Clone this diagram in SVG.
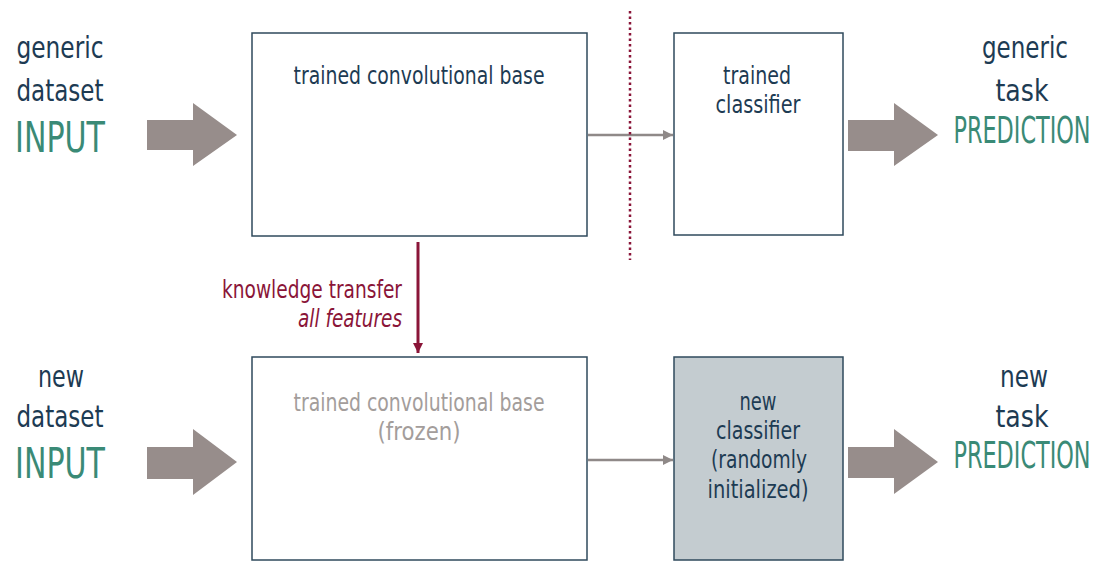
<svg xmlns="http://www.w3.org/2000/svg" width="1099" height="562" viewBox="0 0 1099 562">
  <style>
    text { font-family: "DejaVu Sans Condensed", "Liberation Sans", sans-serif; text-anchor: middle; }
    .word { font-size: 30px; fill: #1d3b53; }
    .big { font-size: 42px; fill: #3a8a76; }
    .pred { font-size: 26px; fill: #3a8a76; }
    .boxlbl { font-size: 24px; fill: #1d3b53; }
    .frozen { font-size: 24px; fill: #a39d9b; }
    .box { fill: #ffffff; stroke: #2f4a5c; stroke-width: 1.5; }
    .boxnew { fill: #c4ccd0; stroke: #2f4a5c; stroke-width: 1.5; }
    .flow { fill: #978d8b; }
    .link { stroke: #8f8988; stroke-width: 2.5; fill: none; }
    .transfer { stroke: #8a1538; stroke-width: 3; fill: none; }
    .kt { font-size: 24px; fill: #8a1538; text-anchor: end; }
  </style>
  <defs>
    <marker id="head-gray" viewBox="0 0 10 10" refX="10" refY="5" markerWidth="4" markerHeight="4" orient="auto" markerUnits="strokeWidth">
      <path d="M0,0 L10,5 L0,10 z" fill="#8f8988"/>
    </marker>
    <marker id="head-red" viewBox="0 0 10 10" refX="10" refY="5" markerWidth="3.5" markerHeight="3.5" orient="auto" markerUnits="strokeWidth">
      <path d="M0,0 L10,5 L0,10 z" fill="#8a1538"/>
    </marker>
  </defs>

  <!-- top row: generic dataset -->
  <g id="generic-input">
    <text class="word" x="60" y="58" textLength="87" lengthAdjust="spacingAndGlyphs">generic</text>
    <text class="word" x="60" y="101" textLength="87" lengthAdjust="spacingAndGlyphs">dataset</text>
    <text class="big" x="60" y="152" textLength="90" lengthAdjust="spacingAndGlyphs">INPUT</text>
    <path class="flow" d="M147,120 H193 V103 L237,135 L193,166 V150 H147 z"/>
  </g>

  <g id="base-top">
    <rect class="box" x="252" y="33" width="335" height="203"/>
    <text class="boxlbl" x="419" y="84" textLength="251" lengthAdjust="spacingAndGlyphs">trained convolutional base</text>
  </g>

  <g id="classifier-top">
    <rect class="box" x="674" y="33" width="169" height="202"/>
    <text class="boxlbl" x="757" y="84" textLength="68" lengthAdjust="spacingAndGlyphs">trained</text>
    <text class="boxlbl" x="758" y="113" textLength="85" lengthAdjust="spacingAndGlyphs">classifier</text>
  </g>

  <g id="generic-prediction">
    <path class="flow" d="M848,120 H894 V103 L938,135 L894,166 V151 H848 z"/>
    <text class="word" x="1025" y="58" textLength="86" lengthAdjust="spacingAndGlyphs">generic</text>
    <text class="word" x="1022" y="101" textLength="53" lengthAdjust="spacingAndGlyphs">task</text>
    <!-- tall narrow capitals: smaller size stretched vertically -->
    <text class="pred" transform="translate(1022,143) scale(0.956,1.46)">PREDICTION</text>
  </g>

  <!-- bottom row: new dataset -->
  <g id="new-input">
    <text class="word" x="61" y="387" textLength="46" lengthAdjust="spacingAndGlyphs">new</text>
    <text class="word" x="60" y="427" textLength="87" lengthAdjust="spacingAndGlyphs">dataset</text>
    <text class="big" x="60" y="478" textLength="90" lengthAdjust="spacingAndGlyphs">INPUT</text>
    <path class="flow" d="M147,447 H193 V429 L237,462 L193,495 V479 H147 z"/>
  </g>

  <g id="base-bottom">
    <rect class="box" x="252" y="357" width="335" height="203"/>
    <text class="frozen" x="419" y="411" textLength="251" lengthAdjust="spacingAndGlyphs">trained convolutional base</text>
    <text class="frozen" x="419" y="440" textLength="83" lengthAdjust="spacingAndGlyphs">(frozen)</text>
  </g>

  <g id="classifier-bottom">
    <rect class="boxnew" x="674" y="357" width="169" height="203"/>
    <text class="boxlbl" x="758" y="410" textLength="37" lengthAdjust="spacingAndGlyphs">new</text>
    <text class="boxlbl" x="758" y="439" textLength="84" lengthAdjust="spacingAndGlyphs">classifier</text>
    <text class="boxlbl" x="759" y="468" textLength="96" lengthAdjust="spacingAndGlyphs">(randomly</text>
    <text class="boxlbl" x="758" y="498" textLength="101" lengthAdjust="spacingAndGlyphs">initialized)</text>
  </g>

  <g id="new-prediction">
    <path class="flow" d="M848,447 H894 V429 L938,462 L894,494 V478 H848 z"/>
    <text class="word" x="1024" y="387" textLength="48" lengthAdjust="spacingAndGlyphs">new</text>
    <text class="word" x="1022" y="427" textLength="53" lengthAdjust="spacingAndGlyphs">task</text>
    <text class="pred" transform="translate(1022,468) scale(0.956,1.46)">PREDICTION</text>
  </g>

  <!-- connectors -->
  <g id="connectors">
    <line class="link" x1="588" y1="135" x2="673" y2="135" marker-end="url(#head-gray)"/>
    <line class="link" x1="588" y1="460" x2="673" y2="460" marker-end="url(#head-gray)"/>
    <line x1="630" y1="11" x2="630" y2="260" stroke="#8a1538" stroke-width="2.5" stroke-dasharray="2.5 3"/>
    <line class="transfer" x1="418" y1="242" x2="418" y2="353" marker-end="url(#head-red)"/>
    <text class="kt" x="402" y="298" textLength="180" lengthAdjust="spacingAndGlyphs">knowledge transfer</text>
    <text class="kt" x="402" y="327" font-style="italic" textLength="104" lengthAdjust="spacingAndGlyphs">all features</text>
  </g>
</svg>
